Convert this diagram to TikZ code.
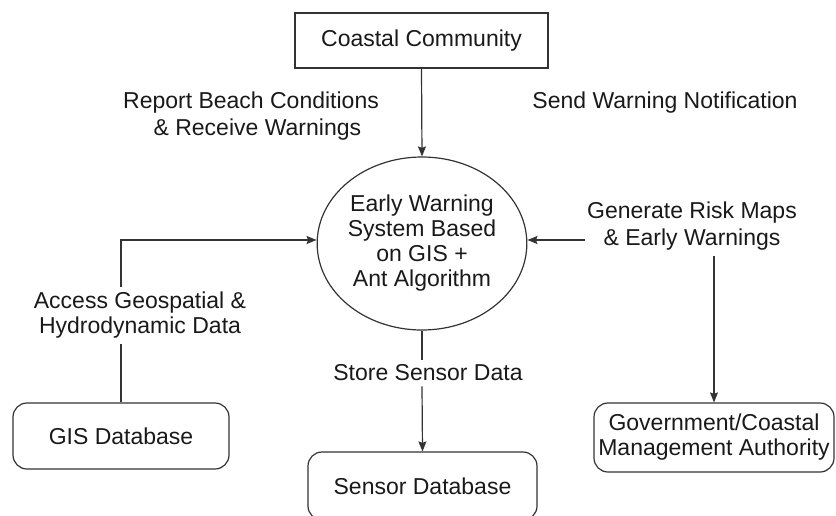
\documentclass[tikz,border=0pt]{standalone}
\usepackage{fontspec}
\setmainfont{Liberation Sans}
\usetikzlibrary{arrows.meta,shapes.geometric}

\begin{document}
\begin{tikzpicture}[x=1pt,y=-1pt,
            every node/.style={font=\fontsize{23}{25}\selectfont,text=black!90,align=center},
            entity/.style={draw=black!80,line width=1.2pt,rectangle},
            store/.style={draw=black!80,line width=1.2pt,rectangle,rounded corners=14pt},
            process/.style={draw=black!80,line width=1.2pt,ellipse,inner sep=0pt},
            flowlabel/.style={inner sep=5pt},
            flow/.style={draw=black!80,line width=1.2pt,-{Stealth[length=10pt,width=8pt,inset=1.5pt]}},
            link/.style={draw=black!80,line width=1.2pt}]
            \useasboundingbox (0,0) rectangle (836,515);
            \node[entity,minimum width=253pt,minimum height=55pt] (community) at (421.5,40.5) {Coastal Community};
            \node[process,minimum width=191pt,minimum height=173pt] (ews) at (422,243.5)
                {Early Warning\\System Based\\on GIS +\\Ant Algorithm};
            \node[store,minimum width=216pt,minimum height=66pt] (gisdb) at (121,436) {GIS Database};
            \node[store,minimum width=229pt,minimum height=68pt] (sensordb) at (422.5,486) {Sensor Database};
            \node[store,minimum width=240pt,minimum height=69pt] (authority) at (714,437.5)
                {Government/Coastal\\Management Authority};
            \node[flowlabel,font=\fontsize{23}{27}\selectfont] (lblreport) at (251,116.5)
                {Report Beach Conditions\\\ \ \& Receive Warnings};
            \node[flowlabel] (lblsend) at (665,103) {Send Warning Notification};
            \node[flowlabel,font=\fontsize{23}{27}\selectfont] (lblgenerate) at (692,226.5)
                {Generate Risk Maps\\\& Early Warnings};
            \node[flowlabel] (lblaccess) at (140,315.5) {Access Geospatial \&\\Hydrodynamic Data};
            \node[flowlabel] (lblstore) at (428,373) {Store Sensor Data};
            \coordinate (accbend) at (121,240);
            \coordinate (genjoin) at (585,240);
            \draw[flow] (community.south) -- (ews.north);
            \draw[flow] (lblaccess.north -| accbend) -- (accbend) -- (accbend -| ews.west);
            \draw[link] (lblaccess.south -| accbend) -- (gisdb.north);
            \draw[flow] (genjoin) -- (genjoin -| ews.east);
            \draw[flow] (lblgenerate.south -| authority.north) -- (authority.north);
            \draw[link] (ews.south) -- (lblstore.north -| ews.south);
            \draw[flow] (lblstore.south -| ews.south) -- (sensordb.north);
        \end{tikzpicture}
\end{document}
